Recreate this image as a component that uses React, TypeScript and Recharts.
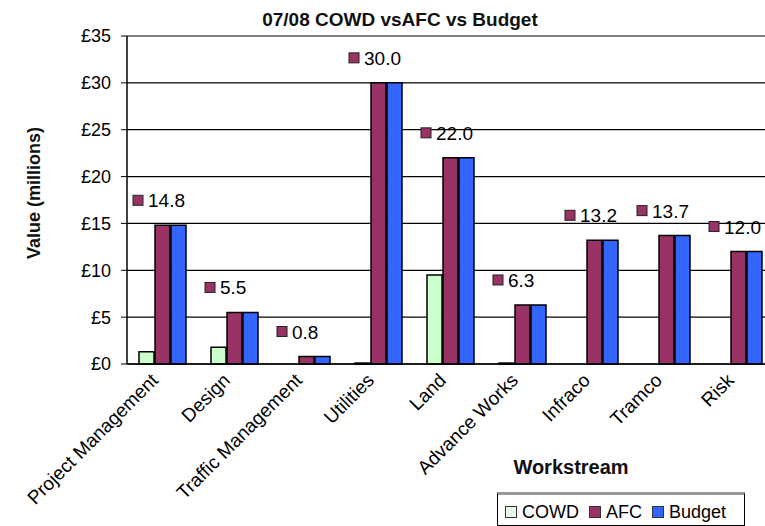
import { BarChart, Bar, XAxis, YAxis, CartesianGrid, Legend, LabelList } from "recharts";

const categories = ["Project Management", "Design", "Traffic Management", "Utilities", "Land", "Advance Works", "Infraco", "Tramco", "Risk"];
const cowd = [1.3, 1.8, 0, 0.1, 9.5, 0.1, 0, 0, 0];
const afc = [14.8, 5.5, 0.8, 30.0, 22.0, 6.3, 13.2, 13.7, 12.0];
const budget = [14.8, 5.5, 0.8, 30.0, 22.0, 6.3, 13.2, 13.7, 12.0];
const yTicks = [0, 5, 10, 15, 20, 25, 30, 35];

const data = categories.map((name, i) => ({ name, cowd: cowd[i], afc: afc[i], budget: budget[i] }));

const FONT = "'Liberation Sans', Arial, sans-serif";

const XTick = ({ x, y, payload }: any) => (
  <g transform={`translate(${x - 6},${y - 1})`}>
    <text x={-6} y={0} dy={9} textAnchor="end" transform="rotate(-45)" fontSize={19} fill="#000">
      {payload.value}
    </text>
  </g>
);

const AfcLabel = ({ x, y, value }: any) => (
  <g>
    <rect x={x - 22} y={y - 30} width={10} height={10} fill="#993366" stroke="#222" strokeWidth={1} />
    <text x={x - 7} y={y - 18} fontSize={19} fill="#000">{Number(value).toFixed(1)}</text>
  </g>
);

const legendItems = [
  { label: "COWD", color: "#e8f8e8" },
  { label: "AFC", color: "#993366" },
  { label: "Budget", color: "#3366ff" },
];

const LegendBox = () => (
  <div style={{ display: "flex", alignItems: "center", height: 34, boxSizing: "border-box", border: "1px solid #000", borderTop: "3px solid #999", paddingLeft: 7, paddingTop: 4, fontSize: 18, fontFamily: FONT, color: "#000", background: "#fff" }}>
    {legendItems.map((it) => (
      <span key={it.label} style={{ display: "flex", alignItems: "center", marginRight: 10 }}>
        <span style={{ width: 10, height: 10, background: it.color, border: "1px solid #333", marginRight: 5, display: "inline-block" }} />
        {it.label}
      </span>
    ))}
  </div>
);

export default function App() {
  return (
    <div style={{ position: "absolute", left: 0, top: 0, width: 765, height: 526, overflow: "hidden", background: "#fff", fontFamily: FONT }}>
      <div style={{ position: "absolute", left: 0, top: 10, width: 800, textAlign: "center", fontSize: 19, lineHeight: 1, fontWeight: "bold", color: "#111" }}>
        07/08 COWD vsAFC vs Budget
      </div>
      <BarChart width={790} height={526} data={data} margin={{ top: 36, right: 15, bottom: 0, left: 67 }} barCategoryGap={12} barGap={1}>
        <CartesianGrid horizontal vertical={false} stroke="#000" strokeWidth={1.2} />
        <XAxis
          dataKey="name"
          height={162}
          interval={0}
          tickLine={false}
          axisLine={{ stroke: "#000", strokeWidth: 1.5 }}
          tick={<XTick />}
          label={{
            content: ({ viewBox }: any) => (
              <text x={viewBox.x + 444} y={viewBox.y + 110} textAnchor="middle" fontSize={20} fontWeight="bold" fill="#111">
                Workstream
              </text>
            ),
          }}
        />
        <YAxis
          width={60}
          domain={[0, 35]}
          ticks={yTicks}
          tickFormatter={(v: number) => `£${v}`}
          tick={{ fontSize: 18, fill: "#000" }}
          tickSize={6}
          tickMargin={10}
          axisLine={{ stroke: "#000", strokeWidth: 1.5 }}
          tickLine={{ stroke: "#000" }}
          label={{
            content: ({ viewBox }: any) => (
              <text transform={`translate(40, ${viewBox.y + viewBox.height / 2 - 7}) rotate(-90)`} textAnchor="middle" fontSize={18} fontWeight="bold" fill="#111">
                Value (millions)
              </text>
            ),
          }}
        />
        <Legend layout="horizontal" verticalAlign="middle" align="center" width={248} wrapperStyle={{ left: 497, top: 492, width: 248 }} content={<LegendBox />} />
        <Bar dataKey="cowd" name="COWD" fill="#ccffcc" stroke="#000" strokeWidth={1.5} isAnimationActive={false} />
        <Bar dataKey="afc" name="AFC" fill="#993366" stroke="#000" strokeWidth={1.5} isAnimationActive={false}>
          <LabelList dataKey="afc" content={<AfcLabel />} />
        </Bar>
        <Bar dataKey="budget" name="Budget" fill="#3366ff" stroke="#000" strokeWidth={1.5} isAnimationActive={false} />
      </BarChart>
    </div>
  );
}
